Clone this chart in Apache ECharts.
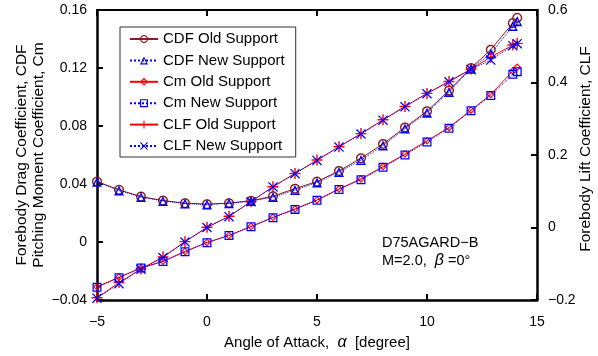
<!DOCTYPE html>
<html>
<head>
<meta charset="utf-8">
<script src="https://cdn.jsdelivr.net/npm/echarts@6/dist/echarts.min.js"></script>
<style>
  html, body { margin: 0; padding: 0; background: #fff; }
  #chart { width: 598px; height: 356px; }
</style>
</head>
<body>
<div id="chart"></div>
<script>
// Angle of attack [deg]
const alpha = [-5, -4, -3, -2, -1, 0, 1, 2, 3, 4, 5, 6, 7, 8, 9, 10, 11, 12, 12.9, 13.9, 14.1];

// Forebody drag coefficient
const cdfOld = [0.0417, 0.0360, 0.0313, 0.0286, 0.0268, 0.0261, 0.0268, 0.0284, 0.0316, 0.0368, 0.0417, 0.0490, 0.0578, 0.0676, 0.0790, 0.0902, 0.1045, 0.1200, 0.1326, 0.1510, 0.1546];
const cdfNew = [0.0415, 0.0355, 0.0310, 0.0283, 0.0265, 0.0258, 0.0268, 0.0282, 0.0310, 0.0358, 0.0410, 0.0482, 0.0565, 0.0665, 0.0782, 0.0892, 0.1035, 0.1195, 0.1300, 0.1489, 0.1523];

// Pitching moment coefficient
const cmOld = [-0.0309, -0.0243, -0.0179, -0.0133, -0.0065, -0.0003, 0.0045, 0.0107, 0.0170, 0.0228, 0.0290, 0.0366, 0.0435, 0.0520, 0.0607, 0.0698, 0.0790, 0.0909, 0.1017, 0.1180, 0.1205];
const cmNew = [-0.0312, -0.0246, -0.0180, -0.0135, -0.0068, -0.0005, 0.0045, 0.0105, 0.0168, 0.0225, 0.0288, 0.0362, 0.0430, 0.0515, 0.0600, 0.0690, 0.0785, 0.0905, 0.1010, 0.1157, 0.1175];

// Forebody lift coefficient (right axis)
const clfOld = [-0.194, -0.152, -0.1145, -0.081, -0.039, 0.0005, 0.031, 0.0715, 0.1126, 0.149, 0.186, 0.2229, 0.259, 0.297, 0.334, 0.370, 0.403, 0.437, 0.470, 0.5035, 0.508];
const clfNew = [-0.195, -0.155, -0.115, -0.083, -0.040, 0.000, 0.030, 0.071, 0.112, 0.1485, 0.185, 0.222, 0.258, 0.296, 0.333, 0.369, 0.402, 0.436, 0.462, 0.5015, 0.507];

const seriesNames = ['CDF Old Support', 'CDF New Support', 'Cm Old Support', 'Cm New Support', 'CLF Old Support', 'CLF New Support'];
const seriesColors = ['#8b1a1a', '#0000ff', '#ff0000', '#0000ff', '#ff0000', '#0000ff'];

const FONT = '"Liberation Sans", Arial, sans-serif';

// Hollow ring as two polygon contours with opposite winding (nonzero fill leaves the middle open)
function ringPath(rOut, rIn, n) {
  const pt = (r, a) => (5 + r * Math.cos(a)).toFixed(3) + ',' + (5 + r * Math.sin(a)).toFixed(3);
  let d = 'M' + pt(rOut, 0);
  for (let i = 1; i < n; i++) d += 'L' + pt(rOut, 2 * Math.PI * i / n);
  d += 'ZM' + pt(rIn, 0);
  for (let i = 1; i < n; i++) d += 'L' + pt(rIn, -2 * Math.PI * i / n);
  return 'path://' + d + 'Z';
}
const RING = ringPath(5, 3.6, 28);
const TRI = 'path://M5,0L10,9L0,9ZM5,2.7L2.2,7.6L7.8,7.6Z';
const SQUARE = 'path://M0,0H10V10H0ZM1.4,1.4V8.6H8.6V1.4Z';
const DIAMOND = 'path://M5,0L10,5L5,10L0,5ZM5,2L2,5L5,8L8,5Z';
const PLUS = 'path://M4.35,0H5.65V10H4.35ZM0,4.35H10V5.65H0Z';
const CROSS = 'path://M0,0.9L0.9,0L10,9.1L9.1,10ZM9.1,0L10,0.9L0.9,10L0,9.1Z';

const pairs = v => alpha.map((a, i) => [a, v[i]]);
const minus = v => String(v).replace('-', '\u2212');

function lineSeries(idx, data, yIdx, dotted, symbol, size, z) {
  const color = seriesColors[idx];
  return {
    name: seriesNames[idx], type: 'line', xAxisIndex: 0, yAxisIndex: yIdx, data: pairs(data),
    symbol, symbolSize: size, showAllSymbol: true, z,
    lineStyle: { color, width: 1, type: dotted ? 'dotted' : 'solid' },
    itemStyle: { color, borderWidth: 0 },
    emphasis: { disabled: true },
    animation: false
  };
}

const chart = echarts.init(document.getElementById('chart'), null, { renderer: 'canvas' });

const axisLine = w => ({ show: true, onZero: false, lineStyle: { color: '#000', width: w } });
const ticks = { show: true, inside: true, length: 6, lineStyle: { color: '#000', width: 2 } };

chart.setOption({
  animation: false,
  backgroundColor: '#fff',
  textStyle: { fontFamily: FONT },
  grid: { left: 97, right: 61, top: 10, bottom: 56, containLabel: false },
  xAxis: [
    {
      type: 'value', position: 'bottom', min: -5, max: 15, interval: 5,
      axisLine: axisLine(2.5), axisTick: ticks,
      axisLabel: { fontSize: 14, color: '#000', margin: 15, fontFamily: FONT, formatter: minus },
      splitLine: { show: false }
    },
    {
      type: 'value', position: 'top', min: -5, max: 15, interval: 5,
      axisLine: axisLine(2), axisTick: ticks,
      axisLabel: { show: false },
      splitLine: { show: false }
    }
  ],
  yAxis: [
    {
      type: 'value', position: 'left', min: -0.04, max: 0.16, interval: 0.04,
      axisLine: axisLine(2.5), axisTick: ticks,
      axisLabel: { fontSize: 14, color: '#000', margin: 10, fontFamily: FONT, formatter: minus },
      splitLine: { show: false }
    },
    {
      type: 'value', position: 'right', min: -0.2, max: 0.6, interval: 0.2,
      axisLine: axisLine(2.5), axisTick: ticks,
      axisLabel: { fontSize: 14, color: '#000', margin: 11, fontFamily: FONT, formatter: minus },
      splitLine: { show: false }
    }
  ],
  legend: {
    orient: 'vertical', left: 120, top: 27,
    data: seriesNames.map((name, i) => ({
      name,
      itemStyle: { color: seriesColors[i], borderWidth: 0, opacity: 1 }
    })),
    backgroundColor: '#fff',
    borderColor: '#333', borderWidth: 1,
    padding: [4, 11, 3, 9],
    itemWidth: 28, itemHeight: 10, itemGap: 5.4,
    textStyle: { fontSize: 15, color: '#000', fontFamily: FONT, lineHeight: 16 },
    selectedMode: false
  },
  graphic: [
    {
      type: 'text', x: 30, y: 155, rotation: Math.PI / 2,
      style: {
        text: 'Forebody Drag Coefficient, CDF\nPitching Moment Coefficient, Cm',
        font: '15.5px ' + FONT, fill: '#000', align: 'center', verticalAlign: 'middle', lineHeight: 17
      }
    },
    {
      type: 'text', x: 586, y: 149, rotation: Math.PI / 2,
      style: {
        text: 'Forebody Lift Coefficient, CLF',
        font: '15.5px ' + FONT, fill: '#000', align: 'center', verticalAlign: 'middle'
      }
    },
    {
      type: 'text', x: 317, y: 343,
      style: {
        text: '{n|Angle of Attack,  }{g|\u03b1}{n|  [degree]}',
        align: 'center', verticalAlign: 'middle',
        rich: {
          n: { fontSize: 15, fontFamily: FONT, fill: '#000' },
          g: { fontSize: 16, fontFamily: FONT, fontStyle: 'italic', fill: '#000' }
        }
      }
    },
    {
      type: 'text', x: 382, y: 243,
      style: {
        text: 'D75AGARD\u2212B',
        font: '14.5px ' + FONT, fill: '#000', align: 'left', verticalAlign: 'middle'
      }
    },
    {
      type: 'text', x: 382, y: 261,
      style: {
        text: '{n|M=2.0,  }{g|\u03b2}{n| =0\u00b0}',
        align: 'left', verticalAlign: 'middle',
        rich: {
          n: { fontSize: 14.5, fontFamily: FONT, fill: '#000' },
          g: { fontSize: 16, fontFamily: FONT, fontStyle: 'italic', fill: '#000' }
        }
      }
    }
  ],
  series: [
    lineSeries(0, cdfOld, 0, false, RING, 10, 3),
    lineSeries(1, cdfNew, 0, true, TRI, 10, 4),
    lineSeries(2, cmOld, 0, false, DIAMOND, 8, 3),
    lineSeries(3, cmNew, 0, true, SQUARE, 9, 4),
    lineSeries(4, clfOld, 1, false, PLUS, 11, 3),
    lineSeries(5, clfNew, 1, true, CROSS, 10, 4)
  ]
});
</script>
</body>
</html>
